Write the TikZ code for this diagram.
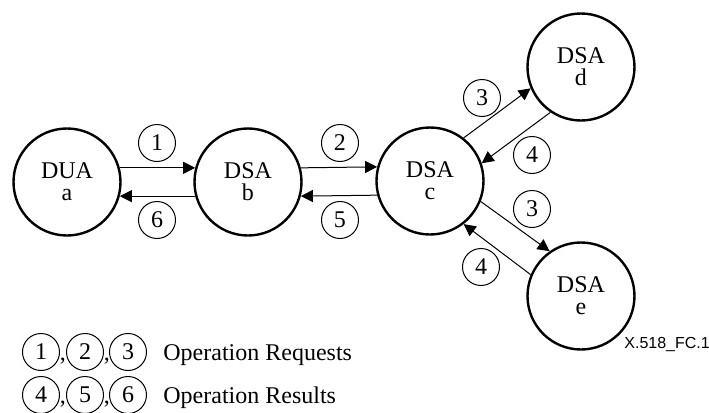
\documentclass[tikz,border=0pt]{standalone}
\usepackage{fontspec}
\setmainfont{Liberation Serif}
\newfontfamily\figsans{Liberation Sans}
\usetikzlibrary{arrows.meta}
\tikzset{every node/.style={font=\fontsize{12}{11}\selectfont},
  agent/.style={circle,draw,line width=1.2pt,minimum size=53.5pt,
    inner sep=0pt,align=center},
  opnum/.style={circle,draw,line width=0.5pt,minimum size=18.5pt,inner sep=0pt},
  msg/.style={line width=0.5pt,-{Triangle[length=6pt,width=6pt]}},
  figref/.style={font=\figsans\fontsize{8}{10}\selectfont,inner sep=0pt}}
\begin{document}
\begin{tikzpicture}[x=0.5pt,y=-0.5pt]
  \path[use as bounding box] (0,0) rectangle (709,413);
  \foreach \n/\x/\y/\kind in {a/67/182/DUA,b/248/182/DSA,c/430/181/DSA,
      d/581/67/DSA,e/581/296/DSA}
    \node[agent] (\n) at (\x,\y) {\kind\\\n};
  % requests and results
  \draw[msg] (a.15) -- (b.165);
  \draw[msg] (b.195) -- (a.345);
  \draw[msg] (b.15) -- (c.165);
  \draw[msg] (c.195) -- (b.345);
  \draw[msg] (c.52) -- (d.203);
  \draw[msg] (d.236) -- (c.19);
  \draw[msg] (c.338) -- (e.125);
  \draw[msg] (e.157) -- (c.308);
  \foreach \n/\x/\y/\num in {op1/157/143/1,op6/157/220/6,op2/340/143/2,
      op5/340/220/5,op3d/482/98/3,op4d/532/155/4,op3e/532/209/3,op4e/481/267/4}
    \node[opnum] (\n) at (\x,\y) {\num};
  % legend
  \foreach \row/\y/\p/\q/\r/\what in {req/352/1/2/3/Operation Requests,
      res/395/4/5/6/Operation Results} {
    \node[opnum] (\row1) at (41,\y) {\p};
    \node[opnum] (\row2) at (85,\y) {\q};
    \node[opnum] (\row3) at (128,\y) {\r};
    \node[anchor=base,inner sep=0pt] (\row-c1) at (63,\y+8) {,};
    \node[anchor=base,inner sep=0pt] (\row-c2) at (107,\y+8) {,};
    \node[anchor=base west,inner sep=0pt] (\row-text) at (163,\y+8) {\what};
  }
  \node[figref,anchor=west] (figid) at (624,345) {X.518\_FC.1};
\end{tikzpicture}
\end{document}
